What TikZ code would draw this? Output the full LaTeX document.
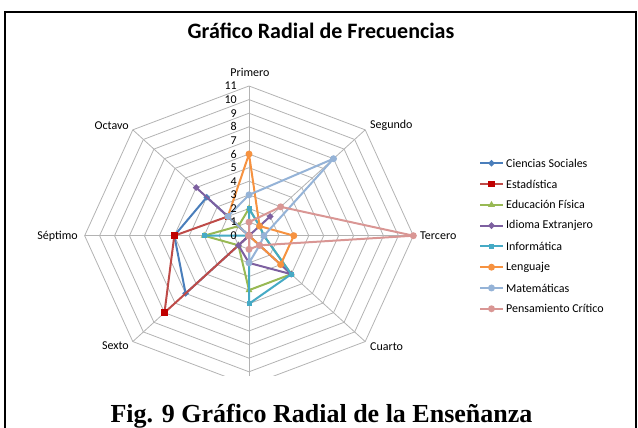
\documentclass[tikz,border=0pt]{standalone}
\usepackage{fontspec}
\setmainfont{Carlito}
\newfontfamily\tiempos{Liberation Serif}
\usetikzlibrary{shapes.geometric}
\definecolor{azul}{RGB}{74,126,187}
\definecolor{rojo}{RGB}{190,75,72}
\definecolor{rojom}{RGB}{192,0,0}
\definecolor{verde}{RGB}{152,185,84}
\definecolor{morado}{RGB}{125,96,160}
\definecolor{turq}{RGB}{70,170,197}
\definecolor{naranja}{RGB}{246,146,64}
\definecolor{celeste}{RGB}{149,179,215}
\definecolor{rosa}{RGB}{217,150,148}
\definecolor{rejilla}{RGB}{179,179,179}
\tikzset{
  mk/.style={inner sep=0pt, draw=none},
  rombo/.style={mk, diamond, minimum size=7pt},
  cuadro/.style={mk, rectangle, minimum size=5pt},
  cuadrog/.style={mk, rectangle, minimum size=6.5pt},
  triang/.style={mk, regular polygon, regular polygon sides=3, minimum size=8pt},
  punto/.style={mk, circle, minimum size=7pt},
  serie/.style={line width=2pt, line join=round},
  rotulo/.style={font=\fontsize{12}{14}\selectfont, inner sep=1pt},
}
% una serie: prefijo, valores, color, marca
\newcommand{\radial}[4]{%
  \foreach \v [count=\i from 0] in {#2}
    \coordinate (#1\i) at ({249+14.94*\v*cos(90-45*\i)},{235.7-13.61*\v*sin(90-45*\i)});
  \draw [serie,#3] (#10)--(#11)--(#12)--(#13)--(#14)--(#15)--(#16)--(#17)--cycle;
  \foreach \i in {0,...,7} \node [#4] (#1m\i) at (#1\i) {};
}

\begin{document}
\begin{tikzpicture}[x=1pt,y=-1pt]
\useasboundingbox (0,0) rectangle (638,428);
\draw [line width=2pt] (5,429) -- (5,12) -- (635.5,12) -- (635.5,429);
\node [font=\bfseries\fontsize{22}{26}\selectfont] (titulo) at (321,31) {Gráfico Radial de Frecuencias};

\begin{scope}
\clip (0,0) rectangle (638,375);
\coordinate (O) at (249,235.7);
\foreach \k in {1,...,11}
  \draw [rejilla,line width=0.8pt] plot [samples at={0,...,8}] ({249+14.94*\k*cos(90-45*\x)},{235.7-13.61*\k*sin(90-45*\x)});
\foreach \i in {0,...,7} {
  \coordinate (v\i) at ({249+164.3*cos(90-45*\i)},{235.7-149.7*sin(90-45*\i)});
  \draw [rejilla,line width=0.8pt] (O) -- (v\i);
}
\radial{cs}{0,0,0,0,0,6,5,4}{azul}{rombo,fill=azul}
\radial{es}{0,0,0,0,0,8,5,2}{rojo}{cuadrog,fill=rojom}
\radial{ef}{2,1,1,4,4,1,3,1}{verde}{triang,fill=verde}
\radial{ie}{0,2,0,4,2,1,0,5}{morado}{rombo,fill=morado}
\radial{inf}{2,1,1,4,5,0,3,0}{turq}{cuadro,fill=turq}
\radial{le}{6,1,3,3,0,0,0,2}{naranja}{punto,fill=naranja}
\radial{ma}{3,8,1,1,2,0,0,2}{celeste}{punto,fill=celeste}
\radial{pc}{1,3,11,1,1,0,0,0}{rosa}{punto,fill=rosa}
\end{scope}

\foreach \k in {0,...,11}
  \node [rotulo,anchor=east] (n\k) at (238,{235.7-13.61*\k}) {\k};
\node [rotulo] (primero) at (250,72.5) {Primero};
\node [rotulo,anchor=west] (segundo) at (369,125) {Segundo};
\node [rotulo,anchor=west] (tercero) at (419,236) {Tercero};
\node [rotulo,anchor=west] (cuarto) at (369,347) {Cuarto};
\node [rotulo,anchor=east] (sexto) at (130,346) {Sexto};
\node [rotulo,anchor=east] (septimo) at (79,236) {Séptimo};
\node [rotulo,anchor=east] (octavo) at (130,125.7) {Octavo};

% leyenda
\foreach \nom/\col/\marca/\relleno [count=\k from 0] in {Ciencias Sociales/azul/rombo/azul, Estadística/rojo/cuadrog/rojom, Educación Física/verde/triang/verde, Idioma Extranjero/morado/rombo/morado, Informática/turq/cuadro/turq, Lenguaje/naranja/punto/naranja, Matemáticas/celeste/punto/celeste, Pensamiento Crítico/rosa/punto/rosa} {
  \coordinate (a\k) at (480,{163.3+20.78*\k});
  \coordinate (b\k) at (503,{163.3+20.78*\k});
  \draw [\col,line width=2pt] (a\k) -- (b\k);
  \node [\marca,fill=\relleno] (l\k) at (491.5,{163.3+20.78*\k}) {};
  \node [rotulo,anchor=west] (t\k) at (505,{163.3+20.78*\k}) {\nom};
}

\node [font=\tiempos\bfseries\fontsize{26}{30}\selectfont,anchor=base] (pie) at (321.5,422) {Fig. 9 Gráfico Radial de la Enseñanza};
\end{tikzpicture}
\end{document}
